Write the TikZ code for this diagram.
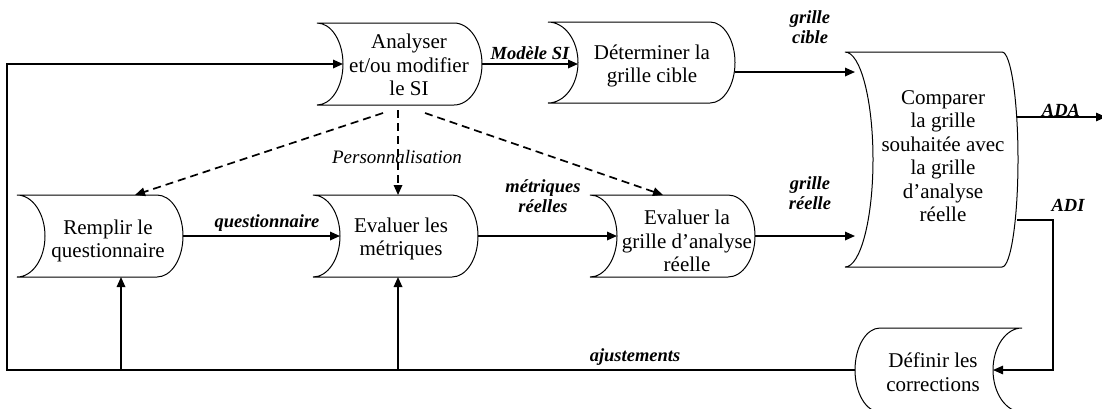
\documentclass[tikz,border=0pt]{standalone}
\usepackage{fontspec}
\setmainfont{Liberation Serif}
\usetikzlibrary{arrows.meta,calc}
\newcommand\procA[7]{%
 \pgfmathsetmacro\pym{(#3+#5)/2}\pgfmathsetmacro\phh{(#5-#3)/2}%
 \def\pk{0.5523}%
 \draw[boxline] (#2,#3) -- ({#4-#7},#3) .. controls ({#4-#7+\pk*#7},#3) and (#4,{\pym-\pk*\phh}) .. (#4,\pym) .. controls (#4,{\pym+\pk*\phh}) and ({#4-#7+\pk*#7},#5) .. ({#4-#7},#5) -- (#2,#5) .. controls ({#2+\pk*#6},#5) and ({#2+#6},{\pym+\pk*\phh}) .. ({#2+#6},\pym) .. controls ({#2+#6},{\pym-\pk*\phh}) and ({#2+\pk*#6},#3) .. cycle;
 \coordinate (#1-w) at ({#2+#6},\pym);
 \coordinate (#1-e) at (#4,\pym);
 \coordinate (#1-n) at ({(#2+#6+#4)/2},#3);
 \coordinate (#1-s) at ({(#2+#6+#4)/2},#5);
}
\newcommand\procB[7]{%
 \pgfmathsetmacro\pym{(#3+#5)/2}\pgfmathsetmacro\phh{(#5-#3)/2}%
 \def\pk{0.5523}%
 \draw[boxline] ({#2+#6},#3) -- (#4,#3) .. controls ({#4-\pk*#7},#3) and ({#4-#7},{\pym-\pk*\phh}) .. ({#4-#7},\pym) .. controls ({#4-#7},{\pym+\pk*\phh}) and ({#4-\pk*#7},#5) .. (#4,#5) -- ({#2+#6},#5) .. controls ({#2+#6-\pk*#6},#5) and (#2,{\pym+\pk*\phh}) .. (#2,\pym) .. controls (#2,{\pym-\pk*\phh}) and ({#2+#6-\pk*#6},#3) .. cycle;
 \coordinate (#1-w) at (#2,\pym);
 \coordinate (#1-e) at ({#4-#7},\pym);
}
\begin{document}
\begin{tikzpicture}[x=1pt,y=-1pt,
  boxline/.style={line width=1pt},
  boxtext/.style={align=center,inner sep=0pt,font=\fontsize{21}{23.5}\selectfont},
  lab/.style={align=center,inner sep=0pt,font=\fontsize{18.5}{20.5}\selectfont\bfseries\itshape},
  ilab/.style={align=center,inner sep=0pt,font=\fontsize{19}{21}\selectfont\itshape},
  arr/.style={line width=1.7pt,-{Triangle[length=10pt,width=8.5pt]}},
  thinarr/.style={line width=1.3pt,-{Triangle[length=10pt,width=8.5pt]}},
  thinline/.style={line width=1.3pt},
  dasharr/.style={line width=1.7pt,dash pattern=on 8pt off 5pt,-{Triangle[length=10pt,width=8.5pt]}}]
\useasboundingbox (0,0) rectangle (1102,408);
\clip (0,0) rectangle (1102,408);
% shapes
\procA{ana}{317}{23}{482}{105}{26}{28}
\procA{det}{548}{22}{735}{103}{30}{25}
\procA{cmp}{845}{52}{1018}{267}{28}{16}
\procA{rem}{17}{195}{183}{277}{28}{26}
\procA{met}{313}{195}{478}{277}{27}{26}
\procA{gr}{590}{195}{755}{277}{27}{27}
\procB{def}{855}{328}{1022}{412}{25}{29}
% texts
\node[boxtext] (anat) at (409,65) {Analyser\\et/ou modifier\\le SI};
\node[boxtext] (dett) at (652,66) {Déterminer la\\grille cible};
\node[boxtext] (cmpt) at (943,156) {Comparer\\la grille\\souhaitée avec\\la grille\\d’analyse\\réelle};
\node[boxtext] (remt) at (108,241) {Remplir le\\questionnaire};
\node[boxtext] (mett) at (401,239) {Evaluer les\\métriques};
\node[boxtext] (grt) at (687,241) {Evaluer la\\grille d’analyse\\réelle};
\node[boxtext] (deft) at (933,372) {Définir les\\corrections};
% coordinates
\coordinate (loopc) at (7,200);
\coordinate (b1) at (121,0);
\coordinate (b2) at (398,0);
\coordinate (cmpin1) at (855,72);
\coordinate (cmpin2) at (855,238);
\coordinate (cmpout1) at (1017,117);
\coordinate (cmpout2) at (1017,220);
\coordinate (adaend) at (1106,117);
\coordinate (adic) at (1053,220);
% connectors
\draw[arr] (def-w) -| (loopc) |- (ana-w);
\draw[arr] (b1 |- def-w) -- (b1 |- rem-s);
\draw[arr] (b2 |- def-w) -- (b2 |- met-s);
\draw[arr] (ana-e) -- (ana-e -| det-w);
\draw[arr] (det-e |- cmpin1) -- (cmpin1);
\draw[arr] (gr-e) -- (gr-e -| cmpin2);
\draw[arr] (met-e) -- (gr-w);
\draw[arr] (rem-e) -- (met-w);
\draw[thinarr] (cmpout1) -- (adaend);
\draw[thinarr] (cmpout2) -- (adic) |- (def-e);
\draw[dasharr] ($(ana-s)+(-29.5,8)$) -- ($(rem-n)+(21,0)$);
\draw[dasharr] ($(ana-s)+(-14.5,5)$) -- ($(met-n)+(-11,0)$);
\draw[dasharr] ($(ana-s)+(12.5,8)$) -- ($(gr-n)+(-23,0)$);
% labels
\node[lab] (lmod) at (530,53) {Modèle SI};
\node[lab] (lcib) at (810,27) {grille\\cible};
\node[lab] (lree) at (810,193) {grille\\réelle};
\node[lab] (lmet) at (543,196) {métriques\\réelles};
\node[lab] (lque) at (267,223) {questionnaire};
\node[ilab] (lper) at (397,157) {Personnalisation};
\node[lab] (laju) at (635,357) {ajustements};
\node[lab] (lada) at (1061,110) {ADA};
\node[lab] (ladi) at (1068,205) {ADI};
\end{tikzpicture}
\end{document}
